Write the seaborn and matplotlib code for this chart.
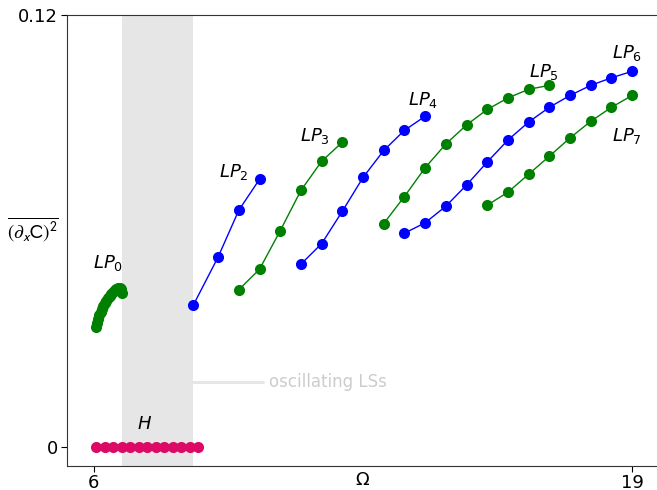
import matplotlib
matplotlib.use("Agg")
import matplotlib.pyplot as plt
import seaborn as sns

# branch data (Omega, mean squared gradient)
h_x = [6.06, 6.27, 6.47, 6.67, 6.88, 7.08, 7.29, 7.49, 7.70, 7.90, 8.11, 8.31, 8.52]
h_y = [0.0] * 13

lp0_x = [6.04, 6.07, 6.10, 6.13, 6.16, 6.19, 6.22, 6.26, 6.30, 6.34, 6.38,
         6.42, 6.46, 6.50, 6.54, 6.58, 6.62, 6.66, 6.69]
lp0_y = [0.0333, 0.0345, 0.0356, 0.0366, 0.0375, 0.0383, 0.0391, 0.0399, 0.0406, 0.0413, 0.0419,
         0.0425, 0.0430, 0.0435, 0.0439, 0.0442, 0.0443, 0.0438, 0.0428]

lp2_x = [8.4, 9.0, 9.5, 10.0]
lp2_y = [0.0394, 0.0528, 0.0658, 0.0744]

lp3_x = [9.5, 10.0, 10.5, 11.0, 11.5, 12.0]
lp3_y = [0.0437, 0.0494, 0.0601, 0.0713, 0.0794, 0.0847]

lp4_x = [11.0, 11.5, 12.0, 12.5, 13.0, 13.5, 14.0]
lp4_y = [0.0508, 0.0565, 0.0655, 0.0749, 0.0824, 0.0880, 0.0919]

lp5_x = [13.0, 13.5, 14.0, 14.5, 15.0, 15.5, 16.0, 16.5, 17.0]
lp5_y = [0.0621, 0.0696, 0.0776, 0.0842, 0.0895, 0.0938, 0.0970, 0.0994, 0.1005]

lp6_x = [13.5, 14.0, 14.5, 15.0, 15.5, 16.0, 16.5, 17.0, 17.5, 18.0, 18.5, 19.0]
lp6_y = [0.0594, 0.0623, 0.0669, 0.0728, 0.0792, 0.0853, 0.0903, 0.0944, 0.0977, 0.1005, 0.1026, 0.1044]

lp7_x = [15.5, 16.0, 16.5, 17.0, 17.5, 18.0, 18.5, 19.0]
lp7_y = [0.0672, 0.0708, 0.0758, 0.0808, 0.0859, 0.0905, 0.0944, 0.0977]

labels = ["$LP_0$", "$LP_2$", "$LP_3$", "$LP_4$", "$LP_5$", "$LP_6$", "$LP_7$", "$H$"]
label_x = [6.34, 9.37, 11.34, 13.96, 16.86, 18.87, 18.87, 7.23]
label_y = [0.0511, 0.0765, 0.0864, 0.0964, 0.1043, 0.1094, 0.0864, 0.0064]

osc_band = (6.68, 8.39)


def draw_branch(ax, xs, ys, color):
    sns.lineplot(x=xs, y=ys, ax=ax, color=color, marker='o', markersize=8,
                 markeredgewidth=0, linewidth=1, sort=False, estimator=None)


sns.set_style("ticks")
plt.rcParams['font.family'] = ['DejaVu Sans']
plt.rcParams['text.color'] = 'black'
plt.rcParams['xtick.color'] = 'black'
plt.rcParams['ytick.color'] = 'black'

fig = plt.figure(figsize=(6.57, 4.9), dpi=100)
ax = fig.add_axes([0.102, 0.049, 0.898, 0.92])

ax.axvspan(osc_band[0], osc_band[1], color='0.9', lw=0, zorder=0)
ax.plot([osc_band[1], 10.08], [0.018, 0.018], color='0.9', lw=2.2, zorder=0)
ax.text(10.22, 0.018, "oscillating LSs", color='0.8', fontsize=12, va='center', ha='left')

draw_branch(ax, lp0_x, lp0_y, 'green')
draw_branch(ax, lp2_x, lp2_y, 'blue')
draw_branch(ax, lp3_x, lp3_y, 'green')
draw_branch(ax, lp4_x, lp4_y, 'blue')
draw_branch(ax, lp5_x, lp5_y, 'green')
draw_branch(ax, lp6_x, lp6_y, 'blue')
draw_branch(ax, lp7_x, lp7_y, 'green')
sns.scatterplot(x=h_x, y=h_y, ax=ax, color='#dc0a64', s=64, linewidth=0, zorder=3)

for t, lx, ly in zip(labels, label_x, label_y):
    ax.text(lx, ly, t, fontsize=13, ha='center', va='center', color='black')

ax.set_xlim(5.35, 19.6)
ax.set_ylim(-0.0053, 0.12)
ax.set_xticks([6, 19])
ax.set_xticklabels(["6", "19"])
ax.set_yticks([0, 0.12])
ax.set_yticklabels(["0", "0.12"])
ax.tick_params(labelsize=13, length=4, direction='out', pad=2.5)
ax.tick_params(axis='x', pad=1.5)
ax.set_xlabel(r"$\Omega$", fontsize=13, color='black')
ax.xaxis.set_label_coords(0.5, -0.012)
ax.xaxis.label.set_va('top')
ax.set_ylabel(r"$\overline{(\partial_x \mathrm{C})^2}$", fontsize=14, rotation=0,
              math_fontfamily='stixsans', color='black')
ax.yaxis.set_label_coords(-0.057, 0.525)
ax.yaxis.label.set_va('center')
ax.yaxis.label.set_ha('center')
ax.spines['right'].set_visible(False)
for s in ['left', 'bottom', 'top']:
    ax.spines[s].set_color('0.2')

fig.savefig("out.png", dpi=100)
